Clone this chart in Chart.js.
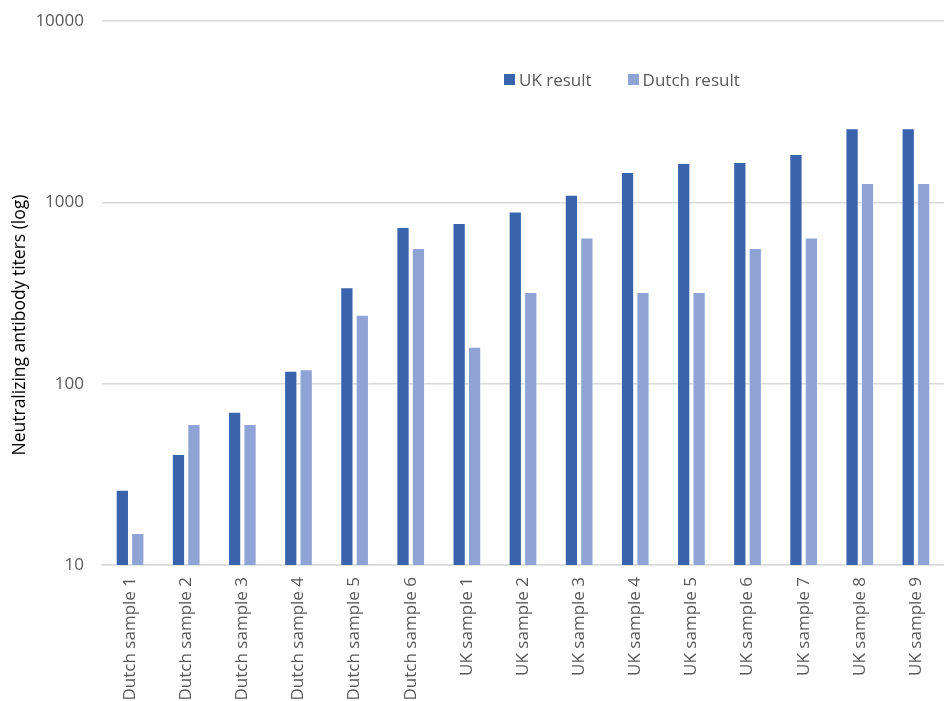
<!DOCTYPE html>
<html>
<head>
<meta charset="utf-8">
<script src="https://cdn.jsdelivr.net/npm/chart.js@4/dist/chart.umd.min.js"></script>
<style>
  html, body { margin: 0; padding: 0; background: #fff; }
  #wrap { position: relative; width: 944px; height: 701px; }
  #legend {
    position: absolute; top: 68px; left: 504px;
    font-family: "Open Sans", "Liberation Sans", sans-serif; font-size: 17px; color: #595959;
    display: flex; gap: 36px; align-items: center;
  }
  #legend span.item { display: flex; align-items: center; }
  #legend i { display: inline-block; width: 11px; height: 11px; margin-right: 4px; }
  #ytitle {
    position: absolute; left: 18px; top: 325px; width: 340px; margin-left: -170px; margin-top: -12px;
    transform: rotate(-90deg); text-align: center; white-space: nowrap;
    font-family: "Open Sans", "Liberation Sans", sans-serif; font-size: 17.5px; line-height: 24px; color: #000;
  }
</style>
</head>
<body>
<div id="wrap">
  <canvas id="chart" width="944" height="701"></canvas>
  <div id="legend"></div>
  <div id="ytitle">Neutralizing antibody titers (log)</div>
</div>
<script>
const categories = [
  'Dutch sample 1', 'Dutch sample 2', 'Dutch sample 3', 'Dutch sample 4', 'Dutch sample 5', 'Dutch sample 6',
  'UK sample 1', 'UK sample 2', 'UK sample 3', 'UK sample 4', 'UK sample 5', 'UK sample 6',
  'UK sample 7', 'UK sample 8', 'UK sample 9'
];
const ukResult    = [26, 41, 70, 118, 340, 730, 770, 890, 1100, 1470, 1650, 1670, 1850, 2560, 2560];
const dutchResult = [15, 60, 60, 120, 240, 560, 160, 320, 640, 320, 320, 560, 640, 1280, 1280];
const yTicks      = [10, 100, 1000, 10000];

const UK_COLOR    = '#3A63AD';
const DUTCH_COLOR = '#8FA3D5';
const FONT = '"Open Sans", "Liberation Sans", sans-serif';

// HTML legend (sits inside the plot area like the original)
const legend = document.getElementById('legend');
[['UK result', UK_COLOR], ['Dutch result', DUTCH_COLOR]].forEach(([label, color]) => {
  const s = document.createElement('span');
  s.className = 'item';
  s.innerHTML = '<i style="background:' + color + '"></i>' + label;
  legend.appendChild(s);
});

const ctx = document.getElementById('chart').getContext('2d');
new Chart(ctx, {
  type: 'bar',
  data: {
    labels: categories,
    datasets: [
      {
        label: 'UK result',
        data: ukResult,
        backgroundColor: UK_COLOR,
        borderColor: 'rgba(255,255,255,0.35)',
        borderWidth: 1,
        categoryPercentage: 0.55,
        barPercentage: 0.86
      },
      {
        label: 'Dutch result',
        data: dutchResult,
        backgroundColor: DUTCH_COLOR,
        borderColor: 'rgba(255,255,255,0.35)',
        borderWidth: 1,
        categoryPercentage: 0.55,
        barPercentage: 0.86
      }
    ]
  },
  options: {
    responsive: false,
    animation: false,
    layout: { padding: { top: 21, right: 0, bottom: 0, left: 0 } },
    plugins: {
      legend: { display: false },
      tooltip: { enabled: false }
    },
    scales: {
      x: {
        grid: { display: false },
        border: { color: '#D9D9D9', width: 1.5 },
        ticks: {
          color: '#595959',
          font: { family: FONT, size: 17 },
          minRotation: 90,
          maxRotation: 90,
          padding: 4
        },
        afterFit: (scale) => { scale.height = 136; }
      },
      y: {
        type: 'logarithmic',
        min: 10,
        max: 10000,
        afterBuildTicks: (scale) => { scale.ticks = yTicks.map(v => ({ value: v })); },
        grid: { color: '#D9D9D9', lineWidth: 1.5, drawTicks: false },
        border: { display: false },
        ticks: {
          color: '#595959',
          font: { family: FONT, size: 17 },
          padding: 18,
          callback: (v) => String(v)
        },
        afterFit: (scale) => {
          scale.width = 102;
          // tick padding would otherwise push the chart area down
          scale.paddingTop = 0;
          scale.paddingBottom = 0;
        }
      }
    }
  }
});
</script>
</body>
</html>
